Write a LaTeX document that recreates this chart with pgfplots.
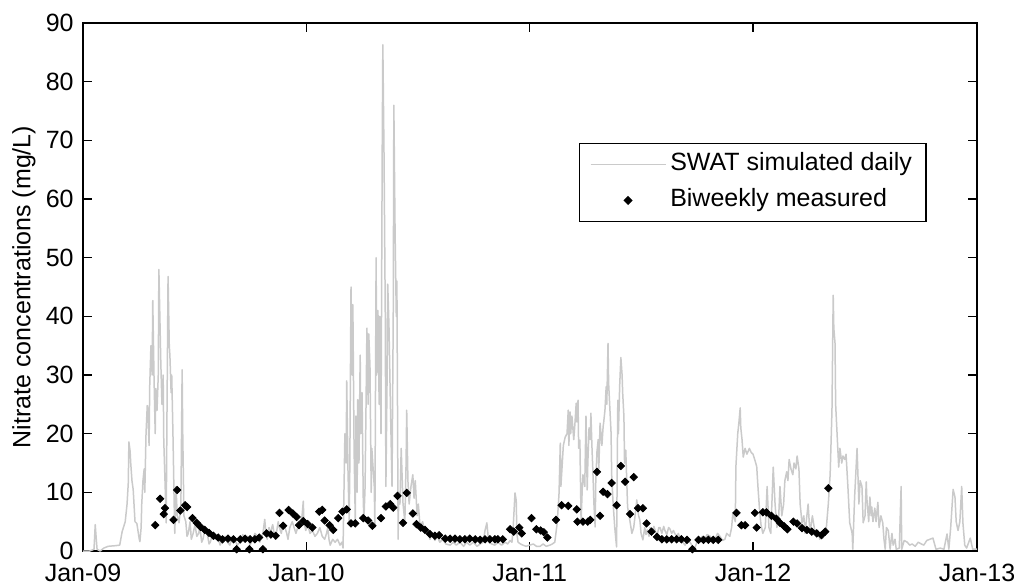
\documentclass[border=0pt]{standalone}
\usepackage{fontspec}
\setmainfont{Liberation Sans}
\usepackage{pgfplots}
\pgfplotsset{compat=1.18}
\definecolor{simgray}{RGB}{202,202,202}
\pgfplotsset{
  simleg/.style={legend image code/.code={\draw[##1] (0pt,0pt) -- (37.5pt,0pt);}},
  measleg/.style={legend image code/.code={\draw[##1, mark repeat=1] plot coordinates {(18.75pt,0pt)};}},
}
\begin{document}
\begin{tikzpicture}
\begin{axis}[
  scale only axis, width=447pt, height=264pt,
  xmin=0, xmax=1461, ymin=0, ymax=90,
  xtick={0,365,730,1095,1461},
  xticklabels={Jan-09,Jan-10,Jan-11,Jan-12,Jan-13},
  ytick={0,10,...,90},
  tick align=inside, tick pos=both,
  major tick length=4.5pt,
  axis line style={line width=0.6pt},
  every tick/.style={black, line width=0.6pt},
  tick label style={font=\fontsize{12.5}{14}\selectfont},
  xticklabel style={inner ysep=0pt, yshift=-6.4pt},
  yticklabel style={inner ysep=0pt, inner xsep=4.5pt},
  /pgf/number format/assume math mode=true,
  ylabel={Nitrate concentrations (mg/L)},
  every axis y label/.style={at={(axis description cs:-0.0660,0.5)}, rotate=90, anchor=center, font=\fontsize{12.5}{14}\selectfont},
  legend style={at={(axis description cs:0.555,0.773)}, anchor=north west, draw=black, line width=0.6pt,
    font=\fontsize{12.5}{14}\selectfont, inner xsep=5pt, inner ysep=2.75pt, row sep=2.5pt,
    nodes={inner sep=2pt, text height=9pt, text depth=2.5pt}},
  legend cell align=left,
]
\addplot[color=simgray, line width=0.75pt, line join=round, simleg]
coordinates {
(0,0) (11,0) (18,0.3) (20,4.5) (21,3) (23,0.3) (28,0) (34,0.5) (41,0.8) (52,0.9) (60,1.0)
(64,3.3) (69,5) (72,8) (74,11.6) (75,18.6) (77,17) (78,15) (80,12) (82,10.5) (85,5) (88,4.7)
(92,2) (93,1.6) (95,4) (96,8) (98,12) (100,14) (101,10) (103,20) (105,24.8) (106,24) (108,18)
(109,28) (111,35) (113,30) (114,42.7) (116,30) (118,20) (119,27.7) (121,24) (123,30) (124,48)
(126,38) (127,32.8) (129,25) (131,30) (132,18.8) (134,12) (136,4.8) (137,20) (139,46.8) (141,35)
(142,33.4) (144,27) (145,30) (147,20) (149,8) (150,3) (152,11) (154,6) (157,4.8) (160,8)
(162,30.9) (163,20) (165,6) (168,5) (170,2.5) (172,3) (175,5) (177,2) (180,3) (183,4.5) (186,2.5)
(189,3) (191,4) (194,1.5) (196,2) (199,3.5) (203,3) (206,1.2) (208,1.5) (212,3) (216,2) (220,2.5)
(224,1) (228,2) (232,2.5) (236,1.5) (240,1) (244,2.5) (248,2) (252,1) (257,1.5) (261,2.8) (265,2)
(269,2.5) (273,1) (277,2) (281,3) (285,2.5) (289,1.5) (292,2.5)
(294,3) (297,5.4) (299,3) (301,2) (304,4) (306,3) (310,4.5) (314,2) (316,3) (319,5) (321,4) (324,3)
(327,4.5) (330,4) (333,3) (335,2) (338,4) (342,5) (345,4) (348,3) (351,4)
(355,4.5) (358,6) (360,8.5) (361,5) (364,3.5) (367,4.5) (371,3) (375,3.5) (379,2.5) (383,3) (387,4)
(391,2.5) (395,2) (398,3) (400,4) (402,2) (404,1) (408,2) (412,1.5) (416,2) (420,1) (423,1.5)
(425,0.5) (428,20) (430,15) (431,29) (433,14) (435,5) (436,14) (438,45) (440,30)
(441,42) (443,17.5) (445,5) (446,23) (448,10) (449,25.8) (451,15) (453,33.4) (454,20) (456,27)
(458,9) (459,5) (461,11) (462,20) (464,38) (466,25) (467,37) (469,31.5) (471,10) (472,17.5)
(476,11) (477,4) (479,50) (480,30) (482,41) (484,25) (485,40) (487,20) (489,68.5) (490,86.3)
(492,67) (494,40) (495,11) (497,30) (498,45.5) (500,38.5) (502,27) (505,11) (507,40) (508,76)
(510,54.5) (512,40) (513,46) (515,2) (516,10) (518,8) (520,17.5) (523,8) (526,5) (528,15) (529,24)
(531,12) (533,8) (536,11) (539,13) (541,9) (543,12) (546,6) (548,8) (551,4) (555,5) (559,3) (563,3.5)
(567,2) (571,2.8) (575,1.8) (579,2.5) (583,1.5) (588,2) (593,1.2) (600,1) (605,1.5) (610,1)
(616,1.5) (622,0.8) (627,1.5) (632,1) (638,1.5) (644,0.8) (649,1.2) (654,1.5) (657,3.5) (660,4.8) (663,1.5)
(668,1.2) (673,1) (678,1.5) (684,1) (690,1.5) (694,1.2) (698,1.8) (701,1.5) (703,4)
(706,9.9) (708,8.6) (709,3) (711,1.5) (715,1.2) (719,1) (724,0.8) (730,1) (736,1.2) (741,0.8) (747,0.8)
(752,1.2) (757,0.8) (763,1) (767,1.2) (771,1.5) (775,4.8)
(778,9.9) (780,18.4) (781,11) (785,18) (788,19.4) (791,20) (793,24) (794,18) (796,23.7) (797,20)
(799,23) (802,19) (804,21.8) (806,25.2) (807,22) (809,25.7) (810,17.5) (812,18.9) (814,5) (816,11)
(817,13) (820,11) (822,23) (824,10.4) (825,15) (827,21) (829,19) (830,23.5) (832,17) (833,14.4)
(835,8) (837,4.1) (838,12) (840,17) (842,19) (843,14) (845,21.8) (848,18) (850,21.2) (851,22)
(853,24) (855,28) (856,25) (858,35.4) (859,28.6) (863,20.1) (864,13) (866,8.7) (869,4) (872,0.7)
(874,25.7) (875,20) (877,28) (879,33) (881,30) (882,26.9) (884,22.9) (885,15) (887,17.2) (890,7.5)
(894,5) (897,3) (900,4) (902,5.8) (905,8.7) (908,6) (910,5.3) (912,3) (915,1.9) (918,4) (920,2.8) (922,3.6)
(925,2.5) (927,4) (930,3) (933,4.2) (935,3.5) (938,2.5) (941,4) (943,4) (946,3) (949,4.2) (951,3.5)
(954,2.8) (957,4) (959,3.8) (962,3) (965,3.5) (967,3) (970,2.5) (973,3) (976,2) (980,1.5) (984,1)
(988,2) (992,1.5) (996,0.8) (1000,0.5) (1004,1.8) (1008,1.5) (1012,2.5)
(1016,2) (1020,2.8) (1025,2.5) (1029,1.8) (1033,2) (1037,3) (1041,2.5) (1045,1.8) (1049,2) (1052,3) (1057,2.5) (1060,4) (1062,6.5) (1066,5) (1067,14.4)
(1070,20) (1072,22) (1074,24.4) (1075,21) (1077,19) (1079,16) (1082,17.5) (1085,16.5) (1089,17.5)
(1092,16.8) (1095,16.5) (1098,15.5) (1101,14.4) (1103,11) (1106,6.5) (1108,4.5) (1111,3) (1115,4) (1118,11)
(1121,4) (1124,3) (1128,14.3) (1131,8) (1134,4) (1137,6) (1139,11) (1142,6) (1145,8) (1147,12) (1150,13.5) (1152,12) (1154,15.6)
(1157,14) (1160,13) (1162,15) (1165,14) (1167,16.2) (1170,14) (1172,8) (1175,4.8) (1178,6) (1180,3) (1185,8) (1188,3) (1192,6) (1195,4) (1198,3)
(1201,3.5) (1204,2) (1207,3) (1209,2.2) (1212,3.5) (1214,3) (1218,8) (1221,13) (1224,24) (1226,43.6) (1227,38) (1229,35.4) (1230,25)
(1232,20.7) (1235,14.3) (1237,17.5) (1240,15) (1242,16.2) (1245,15.6) (1247,16.5) (1250,11) (1253,4.8)
(1257,3) (1258,0.3) (1261,9.2) (1265,17.5) (1268,8) (1270,12) (1273,11) (1275,4.8) (1278,6) (1280,11.8) (1281,9)
(1284,5) (1286,9.2) (1288,6) (1289,7.5) (1291,5) (1294,7.3) (1296,5) (1299,8.3) (1301,4) (1304,6) (1307,4.8) (1309,2) (1311,0.3) (1313,4) (1316,3.5)
(1319,0.3) (1322,3) (1324,1) (1327,2) (1329,0.3) (1334,0.5) (1337,11) (1338,0.3) (1342,1.8) (1347,1.5) (1351,1) (1355,1.2) (1360,0.8) (1365,1.5)
(1370,1.2) (1374,1) (1379,1.8) (1384,2) (1389,2.2) (1394,0.3) (1401,0.5) (1407,0.3) (1412,2.9) (1415,0.3) (1418,4) (1422,10.5)
(1425,9.2) (1427,5) (1430,3.5) (1433,5) (1436,11) (1438,4.8) (1441,1) (1444,0.5) (1450,2.2)
(1454,0.3) (1461,0.3)
};
\addlegendentry{SWAT simulated daily}
\addplot[only marks, mark=square*, mark size=1.3pt, mark options={rotate=45, fill=black, draw=black}, measleg]
coordinates {
(118,4.4) (126,8.9) (132,6.3) (134,7.3) (148,5.3) (154,10.4) (159,6.9) (167,7.8) (170,7.5)
(179,5.6) (186,4.8) (192,4.1) (199,3.6) (206,3.1) (213,2.6) (221,2.3) (228,2.0) (237,2.1) (246,2.0)
(251,0.3) (257,2.0) (265,2.1) (272,0.3) (273,2.0) (281,2.0) (288,2.3) (294,0.3) (300,3.0) (307,2.8)
(315,2.6) (321,6.5) (327,4.3) (336,7.0) (343,6.4) (349,5.8) (353,4.4) (360,5.1) (367,4.6) (375,4.0)
(386,6.7) (391,7.0) (395,5.2) (403,4.4) (409,3.6) (417,5.6) (424,6.7) (431,7.1) (438,4.7) (445,4.7)
(458,5.6) (466,5.2) (473,4.3) (487,5.6) (495,7.6) (502,8.0) (507,7.4) (514,9.4) (523,4.8) (529,9.9)
(539,6.4) (545,4.6) (552,4.0) (559,3.6) (567,2.9) (575,2.6) (582,2.7) (592,2.1) (600,2.1) (608,2.1)
(616,2.0) (624,2.0) (632,2.1) (641,2.0) (649,1.9) (657,2.0) (665,2.0) (673,2.0) (678,2.0) (686,2.0)
(698,3.7) (704,3.3) (713,4.0) (717,3.0) (733,5.6) (741,3.7) (748,3.5) (753,3.2) (759,2.3) (773,5.3)
(782,7.8) (793,7.7) (807,7.1) (808,5.0) (817,5.0) (825,5.0) (829,5.3) (840,13.5) (845,6.0) (850,10.1)
(857,9.7) (864,11.6) (872,7.8) (879,14.5) (886,11.8) (894,6.3) (900,12.6) (907,7.3) (915,7.3)
(921,4.7) (929,3.3) (938,2.4) (946,2.0) (954,2.0) (962,2.0) (970,2.0) (978,2.0) (987,1.9) (996,0.3)
(1006,1.9) (1014,1.9) (1022,1.9) (1030,1.9) (1038,1.9) (1068,6.5) (1076,4.4) (1082,4.4) (1098,6.5)
(1101,4.0) (1111,6.6) (1117,6.6) (1125,6.0) (1133,5.5) (1139,4.8) (1146,4.2) (1151,3.7) (1161,5.0)
(1167,4.7) (1175,3.9) (1183,3.6) (1191,3.3) (1199,3.0) (1207,2.7) (1213,3.3) (1218,10.7)
};
\addlegendentry{Biweekly measured}
\end{axis}
\pgfresetboundingbox
\path[use as bounding box] (-41.5pt,-17.5pt) rectangle (465.5pt,275.5pt);
\end{tikzpicture}
\end{document}
